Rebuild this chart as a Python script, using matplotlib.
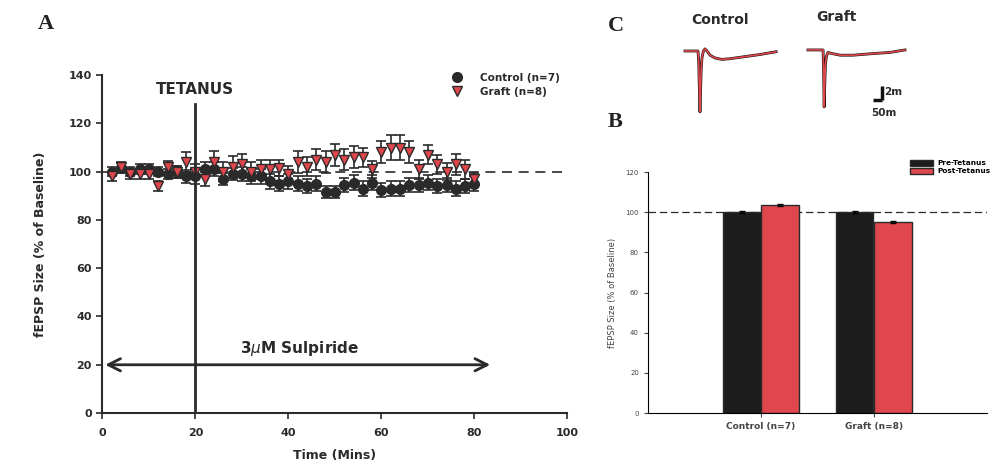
import matplotlib.pyplot as plt
from matplotlib.lines import Line2D

# panel A: fEPSP time course (% of baseline), every 2 mins
time_min = [2, 4, 6, 8, 10, 12, 14, 16, 18, 20, 22, 24, 26, 28, 30, 32, 34, 36, 38, 40,
            42, 44, 46, 48, 50, 52, 54, 56, 58, 60, 62, 64, 66, 68, 70, 72, 74, 76, 78, 80]
control = [100, 101.5, 100, 101, 101, 100, 99, 100, 98, 98, 101, 101, 97, 99, 99, 98, 98, 96, 95, 96,
           95, 94, 95, 91.5, 91.5, 94.5, 95.5, 93, 95.5, 92.5, 93, 93, 94.5, 94.5, 95.5, 94, 94.5, 93, 94, 95]
control_err = [2.0, 2.0, 2.0, 2.0, 2.0, 2.0, 2.0, 2.5, 2.5, 3.0, 3.0, 3.0, 2.5, 2.5, 3.0, 3.0, 3.0, 3.0, 3.0, 3.0,
               3.0, 3.0, 3.0, 2.5, 2.5, 3.0, 3.0, 3.0, 3.0, 3.0, 3.0, 3.0, 3.0, 3.0, 3.0, 3.0, 3.0, 3.0, 3.0, 3.0]
graft = [98, 102, 99, 99, 99, 94, 102, 100, 104, 100, 97, 104, 100, 102, 103, 100, 101, 101, 101.5, 99,
         104, 102, 105, 104, 107, 105, 106, 106, 101, 108, 110, 110, 108, 101, 107, 103, 100, 103, 101, 97]
graft_err = [2.0, 2.0, 2.0, 2.0, 2.0, 2.0, 2.5, 2.5, 4.0, 3.0, 3.0, 4.5, 4.0, 4.5, 4.5, 4.0, 4.0, 4.0, 3.5, 3.5,
             4.5, 4.0, 4.5, 4.5, 4.5, 4.5, 4.5, 4.0, 3.5, 4.5, 5.0, 5.0, 4.5, 4.0, 4.0, 4.0, 3.5, 4.5, 4.0, 2.5]

# panel B: mean fEPSP pre/post tetanus
groups = ['Control (n=7)', 'Graft (n=8)']
pre_tetanus = [100, 100]
post_tetanus = [103.5, 95]
pre_err = [0.5, 0.5]
post_err = [0.6, 0.6]

# panel C: example traces (ms, mV)
ctrl_t = [28, 100, 104, 108, 111, 114, 118, 122, 130, 139, 150, 167, 195, 233, 278, 361, 445, 534]
ctrl_v = [0, 0, -1.5, -6.0, -8.7, -6.0, -2.5, -1.0, 0.0, 0.3, 0.0, -0.6, -1.0, -1.2, -1.1, -0.8, -0.5, -0.1]
graft_t = [711, 795, 798, 801, 804, 808, 813, 822, 834, 890, 962, 1056, 1167, 1250]
graft_v = [0.15, 0.15, -3.0, -8.0, -5.0, -2.0, -0.8, -0.2, -0.3, -0.6, -0.6, -0.4, -0.2, 0.15]

dark = '#2a2a2a'
red = '#e0474c'

fig = plt.figure(figsize=(9.99, 4.71), dpi=100)

# ---- A ----
ax = fig.add_axes([0.1025, 0.123, 0.4655, 0.7176])
ax.axhline(100, color=dark, lw=1.2, ls=(0, (6, 4)), zorder=1)
ax.errorbar(time_min, control, yerr=control_err, fmt='o', color=dark, ecolor=dark,
            ms=7, capsize=3.5, elinewidth=1.2, capthick=1.2, zorder=3)
ax.errorbar(time_min, graft, yerr=graft_err, fmt='v', mfc=red, mec=dark, ecolor=dark,
            ms=7, capsize=3.5, elinewidth=1.2, capthick=1.2, zorder=4)
ax.plot([20, 20], [0, 128], color=dark, lw=2, zorder=5)
ax.text(20, 131, 'TETANUS', ha='center', va='bottom', fontsize=11, fontweight='bold', color=dark)
ax.annotate('', xy=(84, 20), xytext=(0, 20),
            arrowprops=dict(arrowstyle='<->', color=dark, lw=2, mutation_scale=22))
ax.text(42.5, 23, '3$\\mu$M Sulpiride', ha='center', va='bottom', fontsize=11,
        fontweight='bold', color=dark)
ax.set_xlim(0, 100)
ax.set_ylim(0, 140)
ax.set_xticks([0, 20, 40, 60, 80, 100])
ax.set_yticks([0, 20, 40, 60, 80, 100, 120, 140])
for s in ['top', 'right']:
    ax.spines[s].set_visible(False)
for s in ['left', 'bottom']:
    ax.spines[s].set_color(dark)
    ax.spines[s].set_linewidth(1.5)
ax.tick_params(colors=dark, labelsize=8, width=1.2, length=4)
for lab in ax.get_xticklabels() + ax.get_yticklabels():
    lab.set_fontweight('bold')
ax.xaxis.set_tick_params(pad=7)
ax.set_xlabel('Time (Mins)', fontsize=9, fontweight='bold', color=dark, labelpad=8)
ax.set_ylabel('fEPSP Size (% of Baseline)', fontsize=9, fontweight='bold', color=dark, labelpad=16)
handles = [Line2D([], [], ls='none', marker='o', color=dark, ms=7),
           Line2D([], [], ls='none', marker='v', mfc=red, mec=dark, ms=7)]
leg = ax.legend(handles, ['Control (n=7)', 'Graft (n=8)'], loc='upper left',
                bbox_to_anchor=(0.72, 1.035), frameon=False,
                prop={'size': 7.5, 'weight': 'bold'}, handletextpad=1.2, labelspacing=0.4)
for t in leg.get_texts():
    t.set_color(dark)

# ---- B ----
bx = fig.add_axes([0.6486, 0.123, 0.339, 0.5117])
pos = [1, 2]
w = 0.335
bx.axhline(100, color=dark, lw=0.9, ls=(0, (6, 3)), zorder=0)
bx.bar([p - 0.17 for p in pos], pre_tetanus, width=w, color='#1c1c1c', edgecolor=dark,
       yerr=pre_err, capsize=2, error_kw=dict(lw=0.8), label='Pre-Tetanus', zorder=2)
bx.bar([p + 0.17 for p in pos], post_tetanus, width=w, color=red, edgecolor=dark,
       yerr=post_err, capsize=2, error_kw=dict(lw=0.8), label='Post-Tetanus', zorder=2)
bx.set_xlim(0, 3)
bx.set_ylim(0, 120)
bx.set_xticks(pos)
bx.set_xticklabels(groups, fontsize=6.5, fontweight='bold', color='#444444')
bx.set_yticks([0, 20, 40, 60, 80, 100, 120])
bx.tick_params(axis='y', labelsize=5, colors='#444444', length=3)
bx.tick_params(axis='x', length=3, colors='#444444')
for s in ['top', 'right']:
    bx.spines[s].set_visible(False)
bx.set_ylabel('fEPSP Size (% of Baseline)', fontsize=6, color='#444444', labelpad=6)
bleg = bx.legend(loc='upper left', bbox_to_anchor=(0.76, 1.07), frameon=False,
                 prop={'size': 5.3, 'weight': 'bold'}, handlelength=3.2, handleheight=0.9,
                 labelspacing=0.2, handletextpad=0.5, borderaxespad=0.2)

# ---- C ----
cx = fig.add_axes([680 / 999, 1 - 120 / 471, 230 / 999, 110 / 471])
cx.plot(ctrl_t, ctrl_v, color='#111111', lw=2.0)
cx.plot(ctrl_t, ctrl_v, color=red, lw=1.2)
cx.plot(graft_t, graft_v, color='#111111', lw=2.0)
cx.plot(graft_t, graft_v, color=red, lw=1.2)
cx.plot([1073, 1123], [-7, -7], color='#111111', lw=2.5, solid_capstyle='butt')
cx.plot([1123, 1123], [-7, -5], color='#111111', lw=2.5, solid_capstyle='butt')
cx.text(1135, -5.9, '2m', fontsize=7.5, fontweight='bold', color=dark, va='center')
cx.text(1060, -8.8, '50m', fontsize=7.5, fontweight='bold', color=dark, va='center')
cx.text(220, 4.4, 'Control', fontsize=10, fontweight='bold', color=dark, ha='center', va='center')
cx.text(870, 4.9, 'Graft', fontsize=10, fontweight='bold', color=dark, ha='center', va='center')
cx.set_xlim(0, 1278)
cx.set_ylim(-9.86, 5.86)
cx.axis('off')

# panel letters
for letter, x, y in [('A', 38, 24), ('C', 608, 26), ('B', 608, 122)]:
    fig.text(x / 999, 1 - y / 471, letter, fontsize=16, fontweight='bold',
             family='Liberation Serif', va='center', color='#222222')

fig.savefig('out.png', dpi=100)
